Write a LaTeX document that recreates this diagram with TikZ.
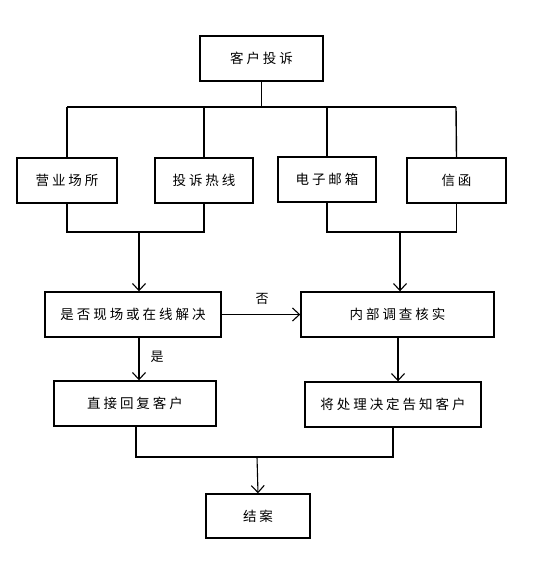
\documentclass[tikz,border=0pt]{standalone}
\usepackage{fontspec}
\newfontfamily\cjk[LetterSpace=22]{Noto Sans CJK SC}
\usetikzlibrary{arrows.meta}
\begin{document}
\begin{tikzpicture}[x=1pt,y=-1pt,
  box/.style={draw=black,line width=1.4pt,rectangle,minimum height=45pt,inner sep=0pt,font=\cjk\fontsize{13.5pt}{15pt}\selectfont},
  conn/.style={line width=1.4pt},
  arr/.style={line width=1.1pt,-{Straight Barb[length=7pt,width=13pt,line width=1.1pt]}},
  lbl/.style={font=\cjk\fontsize{13pt}{14pt}\selectfont,inner sep=0pt}]
\useasboundingbox (0,0) rectangle (532,561);
\node[box,minimum width=123pt] (top) at (261.5,58.5) {客户投诉};
\node[box,minimum width=100pt] (b1) at (67,180.5) {营业场所};
\node[box,minimum width=98pt] (b2) at (204,180.5) {投诉热线};
\node[box,minimum width=98pt] (b3) at (327,179.5) {电子邮箱};
\node[box,minimum width=99pt] (b4) at (456.5,180.5) {信函};
\node[box,minimum width=176pt] (q) at (133,314.5) {是否现场或在线解决};
\node[box,minimum width=193pt] (inv) at (397.5,314.5) {内部调查核实};
\node[box,minimum width=162pt] (r1) at (135,403.5) {直接回复客户};
\node[box,minimum width=176pt] (r2) at (393,404.5) {将处理决定告知客户};
\node[box,minimum width=104pt,minimum height=44pt] (end) at (258,516) {结案};
% top bus
\coordinate (bus) at (261.5,107);
\coordinate (busL) at (67,107);
\coordinate (busR) at (456,107);
\draw[conn] (top.south) -- (bus);
\draw[conn] (busL) -- (busR);
\draw[conn] (busL) -- (b1.north);
\draw[conn] (b2.north |- bus) -- (b2.north);
\draw[conn] (b3.north |- bus) -- (b3.north);
\draw[conn] (busR) -- (b4.north);
% lower joins
\coordinate (jl) at (139,232);
\coordinate (jr) at (400,232);
\draw[conn] (b1.south) |- (jl) -| (b2.south);
\draw[conn] (b3.south) |- (jr) -| (b4.south);
\draw[arr] (jl) -- (jl |- q.north);
\draw[arr] (jr) -- (jr |- inv.north);
% decision
\draw[arr] (q.east) -- (inv.west);
\node[lbl] (no) at (262,299) {否};
\coordinate (qs) at (139,337);
\draw[arr] (qs) -- (qs |- r1.north);
\node[lbl] (yes) at (157,357) {是};
\coordinate (is) at (398,337);
\draw[arr] (is) -- (is |- r2.north);
% final join
\coordinate (jb) at (257,457);
\draw[conn] (r1.south -| 136,0) |- (jb) -| (r2.south -| 393,0);
\draw[arr] (jb) -- (end.north);
\end{tikzpicture}
\end{document}
